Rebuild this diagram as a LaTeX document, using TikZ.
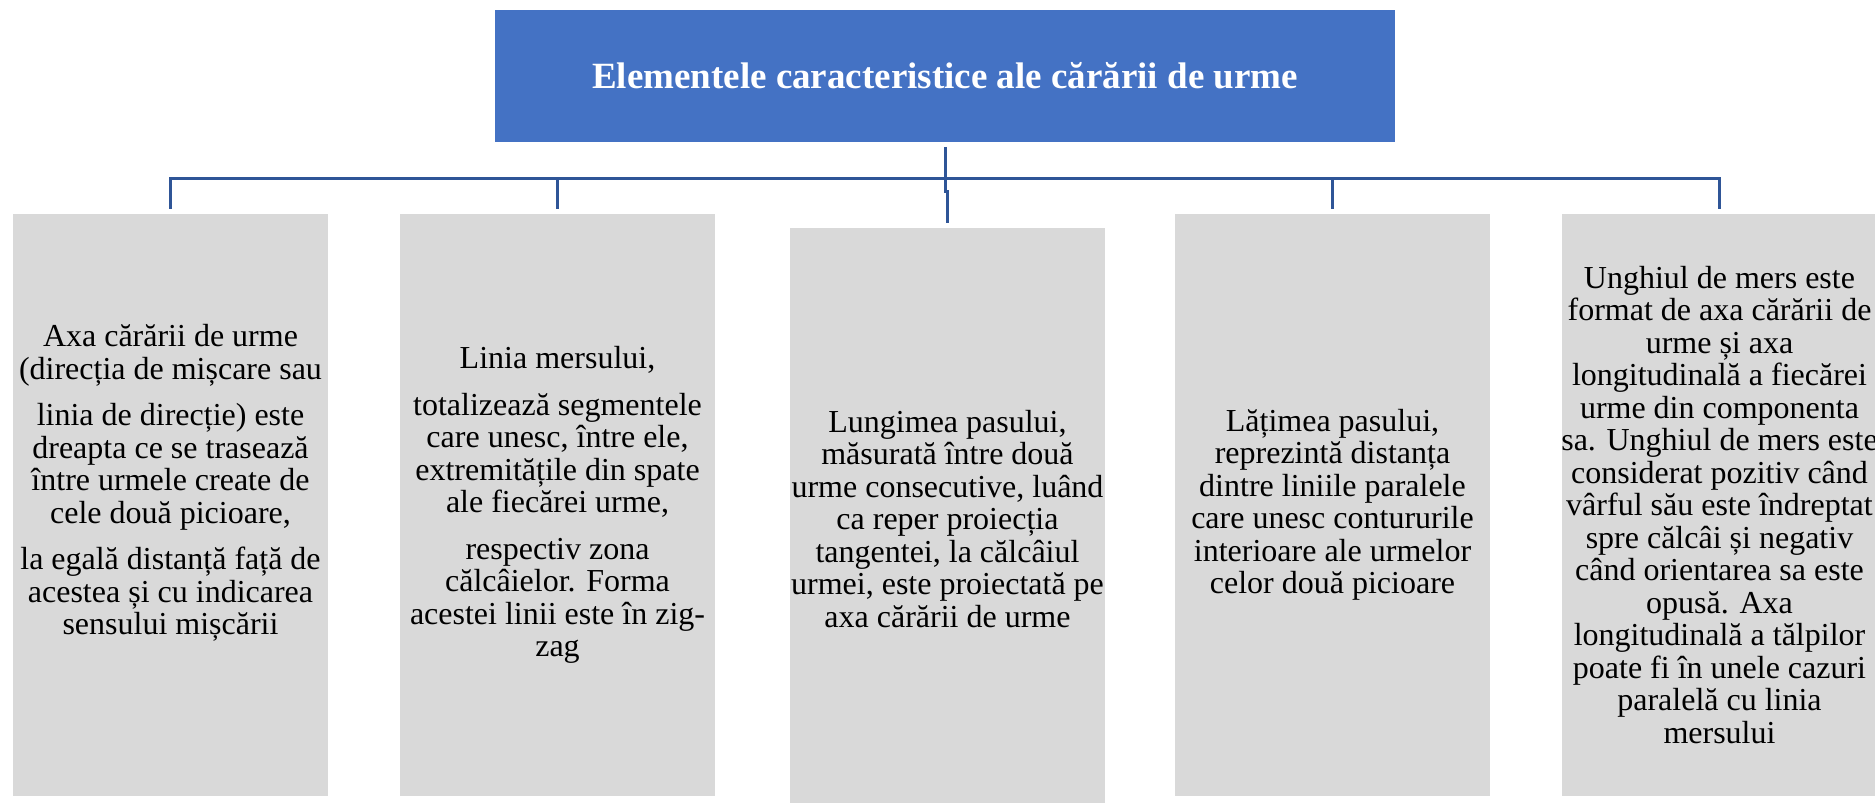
\documentclass[tikz,border=0pt]{standalone}
\usepackage{fontspec}
\setmainfont{Liberation Serif}
\definecolor{topblue}{HTML}{4472C4}
\definecolor{connblue}{HTML}{2F5597}
\definecolor{boxgray}{HTML}{D9D9D9}
\begin{document}
\begin{tikzpicture}[x=1pt,y=-1pt,
  topbox/.style={fill=topblue, draw=white, line width=1.5pt, minimum width=902pt, minimum height=134pt,
    inner sep=0pt, text=white, font=\bfseries\fontsize{37}{40}\selectfont, align=center},
  itembox/.style={fill=boxgray, draw=white, line width=1.5pt, minimum width=317pt, minimum height=584pt,
    inner sep=0pt, text=black, font=\fontsize{32}{32.5}\selectfont, align=center},
  itemtext/.style={inner sep=0pt, text=black, font=\fontsize{32}{32.5}\selectfont, align=center},
  conn/.style={draw=connblue, line width=3pt}]
\useasboundingbox (0,0) rectangle (1875,803);
\fill[white] (0,0) rectangle (1875,803);

\node[topbox] (top) at (945,76) {Elementele caracteristice ale cărării de urme};

\node[itembox] (b1) at (170.5,505) {};
\node[itemtext] (t1) at ([yshift=22pt]b1.center) {Axa cărării de urme\\(direcția de mișcare sau\\[14pt]linia de direcție) este\\dreapta ce se trasează\\între urmele create de\\cele două picioare,\\[14pt]la egală distanță față de\\acestea și cu indicarea\\sensului mișcării};

\node[itembox] (b2) at (557.5,505) {Linia mersului,\\[14pt]totalizează segmentele\\care unesc, între ele,\\extremitățile din spate\\ale fiecărei urme,\\[14pt]respectiv zona\\călcâielor. Forma\\acestei linii este în zig-\\zag};

\node[itembox] (b3) at (947.5,519) {Lungimea pasului,\\măsurată între două\\urme consecutive, luând\\ca reper proiecția\\tangentei, la călcâiul\\urmei, este proiectată pe\\axa cărării de urme};

\node[itembox] (b4) at (1332.5,505) {Lățimea pasului,\\reprezintă distanța\\dintre liniile paralele\\care unesc contururile\\interioare ale urmelor\\celor două picioare};

\node[itembox] (b5) at (1719.5,505) {Unghiul de mers este\\format de axa cărării de\\urme și axa\\longitudinală a fiecărei\\urme din componenta\\sa. Unghiul de mers este\\considerat pozitiv când\\vârful său este îndreptat\\spre călcâi și negativ\\când orientarea sa este\\opusă. Axa\\longitudinală a tălpilor\\poate fi în unele cazuri\\paralelă cu linia\\mersului};

\coordinate (bar) at (945,178);
\draw[conn] ([yshift=-3pt]top.south) -- (bar);
\foreach \b in {b1,b2,b4,b5}
  \draw[conn] (bar) -| ([yshift=3pt]\b.north);
\draw[conn] (bar) -- ++(0,13) -| ([yshift=3pt]b3.north);
\end{tikzpicture}
\end{document}
